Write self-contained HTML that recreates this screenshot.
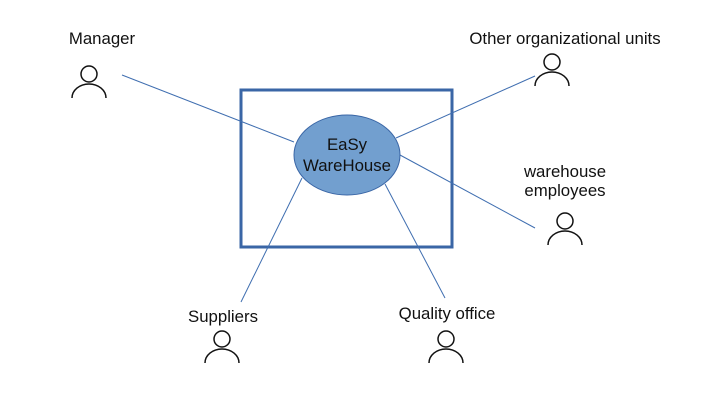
<!DOCTYPE html>
<html><head><style>body{margin:0;background:#fff}svg{display:block}</style></head>
<body>
<svg width="705" height="420" xmlns="http://www.w3.org/2000/svg" font-family="Liberation Sans, sans-serif" font-size="16.8">
<rect x="0" y="0" width="705" height="420" fill="#fff"/>
<rect x="241" y="90" width="211" height="157" fill="none" stroke="#3a66a6" stroke-width="3"/>
<g stroke="#3f6eb0" stroke-width="1" fill="none">
<line x1="122" y1="75" x2="294" y2="142"/>
<line x1="535" y1="76" x2="396" y2="138"/>
<line x1="400" y1="155" x2="535" y2="228"/>
<line x1="302" y1="178" x2="241" y2="302"/>
<line x1="385" y1="184" x2="445" y2="298"/>
</g>
<ellipse cx="347" cy="155" rx="53" ry="40" fill="#729fcf" stroke="#3a66a6" stroke-width="1"/>
<text x="347" y="150" text-anchor="middle" fill="#111">EaSy</text>
<text x="347" y="171" text-anchor="middle" fill="#111">WareHouse</text>
<g stroke="#111" stroke-width="1.5" fill="none">
<circle cx="89" cy="74" r="8"/><path d="M72 98 A17 14 0 0 1 106 98"/>
<circle cx="552" cy="62" r="8"/><path d="M535 86 A17 14 0 0 1 569 86"/>
<circle cx="565" cy="221" r="8"/><path d="M548 245 A17 14 0 0 1 582 245"/>
<circle cx="222" cy="339" r="8"/><path d="M205 363 A17 14 0 0 1 239 363"/>
<circle cx="446" cy="339" r="8"/><path d="M429 363 A17 14 0 0 1 463 363"/>
</g>
<g fill="#111" text-anchor="middle">
<text x="102" y="44">Manager</text>
<text x="565" y="44">Other organizational units</text>
<text x="565" y="177">warehouse</text>
<text x="565" y="196">employees</text>
<text x="223" y="322">Suppliers</text>
<text x="447" y="319">Quality office</text>
</g>
</svg>
</body></html>
